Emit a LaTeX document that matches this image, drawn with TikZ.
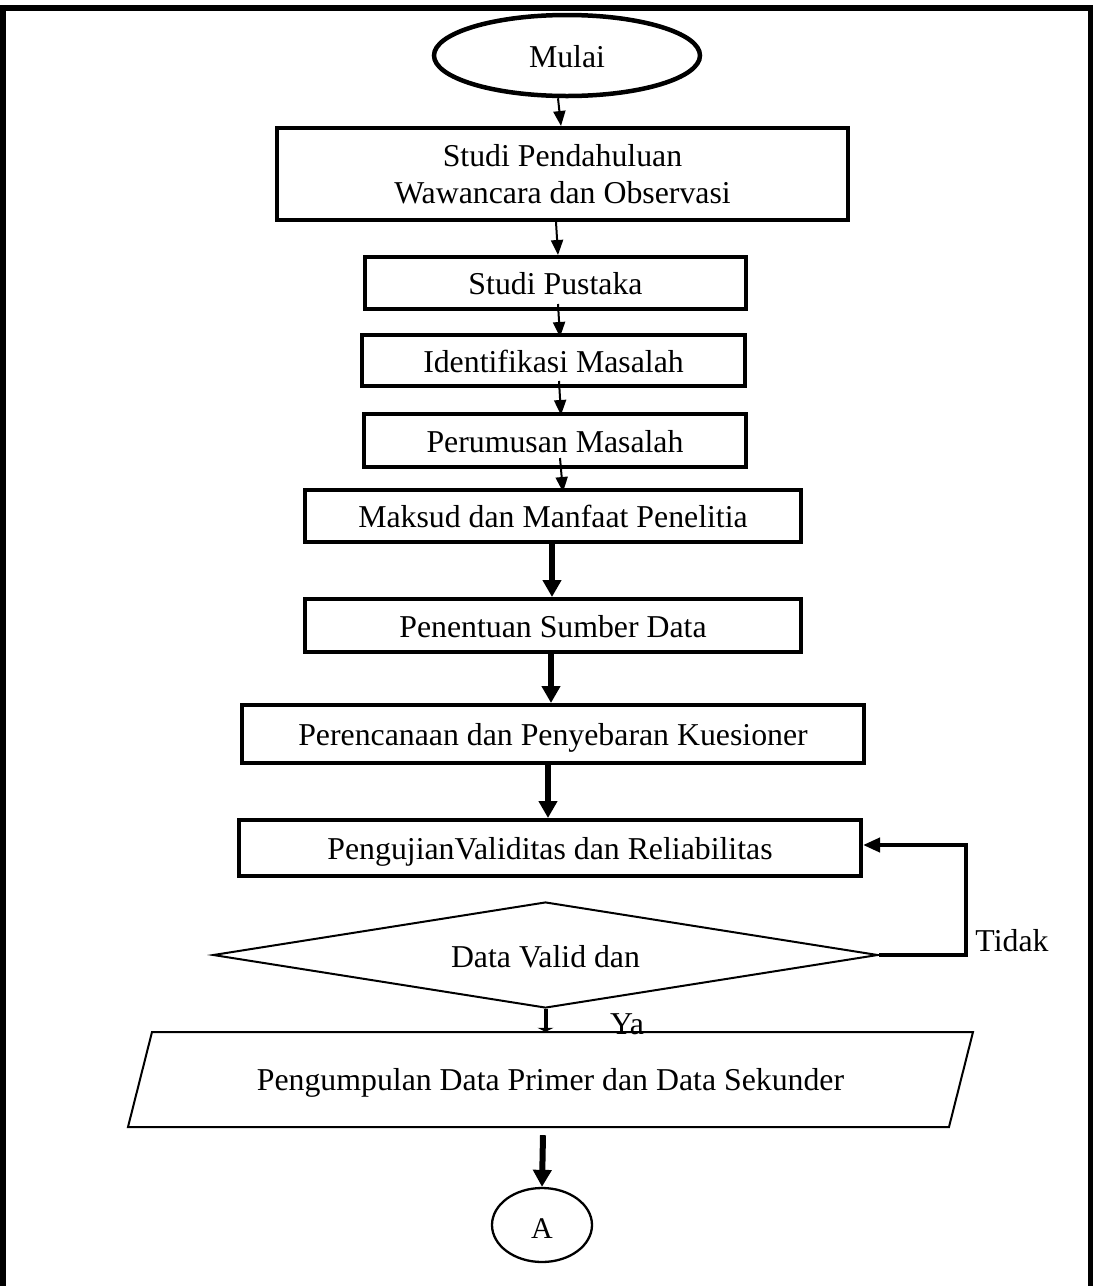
\documentclass[tikz,border=0pt]{standalone}
\usepackage{fontspec}
\setmainfont{Liberation Serif}
\usetikzlibrary{shapes.geometric,arrows.meta}
\begin{document}
\begin{tikzpicture}[x=1pt,y=-1pt,
  every node/.style={font=\fontsize{31.8pt}{37pt}\selectfont, inner sep=0pt},
  box/.style={draw, rectangle, line width=4pt, text height=23pt, text depth=0pt},
  lbl/.style={text height=21pt, text depth=0pt},
  arrthin/.style={line width=2pt, -{Triangle[length=15pt,width=12pt]}},
  arrthick/.style={line width=6pt, -{Triangle[length=17pt,width=18pt]}},
  arrloop/.style={line width=4pt, line join=miter, -{Triangle[length=17pt,width=14pt]}},
  frame/.style={line width=6pt, line join=miter}
]
\useasboundingbox (0,0) rectangle (1093,1286);
% outer frame (open at the bottom)
\coordinate (fbl) at (3,1290);
\coordinate (ftl) at (3,7.5);
\coordinate (ftr) at (1090.5,7.5);
\coordinate (fbr) at (1090.5,1290);
\draw[frame] (fbl) -- (ftl) -- (ftr) -- (fbr);

% nodes
\node[draw, ellipse, line width=4.5pt, minimum width=266, minimum height=81, text height=23pt, text depth=0pt] (m) at (567,55.5) {Mulai};
\node[draw, rectangle, line width=4pt, minimum width=571, minimum height=92, align=center] (b1) at (562.5,174) {Studi Pendahuluan\\Wawancara dan Observasi};
\node[box, minimum width=381, minimum height=52] (b2) at (555.5,283) {Studi Pustaka};
\node[box, minimum width=383, minimum height=51] (b3) at (553.5,360.5) {Identifikasi Masalah};
\node[box, minimum width=382, minimum height=53] (b4) at (555,440.5) {Perumusan Masalah};
\node[box, minimum width=496, minimum height=52] (b5) at (553,516) {Maksud dan Manfaat Penelitia};
\node[box, minimum width=496, minimum height=53] (b6) at (553,625.5) {Penentuan Sumber Data};
\node[box, minimum width=622, minimum height=58] (b7) at (553,734) {Perencanaan dan Penyebaran Kuesioner};
\node[box, minimum width=622, minimum height=56] (b8) at (550,848) {PengujianValiditas dan Reliabilitas};
\node[draw, diamond, line width=2pt, aspect=6.27, minimum width=665, minimum height=106, text height=24pt, text depth=0pt] (d) at (545.5,955) {Data Valid dan};
\node[lbl] (tidak) at (1012,940.5) {Tidak};
\node[lbl] (ya) at (627,1023.5) {Ya};
\node[minimum height=95, text height=21pt, text depth=0pt] (p) at (550.5,1079.5) {Pengumpulan Data Primer dan Data Sekunder};
\draw[line width=2pt, line join=miter] (128,1127) -- (949,1127) -- (973,1032) -- (152,1032) -- cycle;
\node[draw, ellipse, line width=2.3pt, minimum width=100, minimum height=74, font=\fontsize{30pt}{36pt}\selectfont, text height=26pt, text depth=0pt] (A) at (542,1225) {A};

% connectors
\draw[arrthin] ([xshift=-9pt]m.south) -- ([xshift=-1.5pt]b1.north);
\draw[arrthin] ([xshift=-6.5pt]b1.south) -- ([xshift=2.5pt]b2.north);
\draw[arrthin] ([xshift=2.5pt,yshift=7pt]b2.south) -- ([xshift=6.5pt,yshift=-4pt]b3.north);
\draw[arrthin] ([xshift=5.5pt,yshift=7pt]b3.south) -- ([xshift=6pt,yshift=-3pt]b4.north);
\draw[arrthin] ([xshift=5pt,yshift=11pt]b4.south) -- ([xshift=10pt,yshift=-4pt]b5.north);
\draw[arrthick] ([xshift=-1pt]b5.south) -- ([xshift=-1pt]b6.north);
\draw[arrthick] ([xshift=-2pt]b6.south) -- ([xshift=-2pt]b7.north);
\draw[arrthick] ([xshift=-5pt]b7.south) -- ([xshift=-2pt]b8.north);
\draw[arrloop] (d.east) -- ++(87,0) |- ([yshift=3pt]b8.east);
\draw[line width=4pt, -{Triangle[length=4pt,width=16pt]}] (d.south) -- ([xshift=-5pt]p.north);
\draw[arrthick] ([xshift=-7.5pt,yshift=-8pt]p.south) -- (A.north);
\end{tikzpicture}
\end{document}
